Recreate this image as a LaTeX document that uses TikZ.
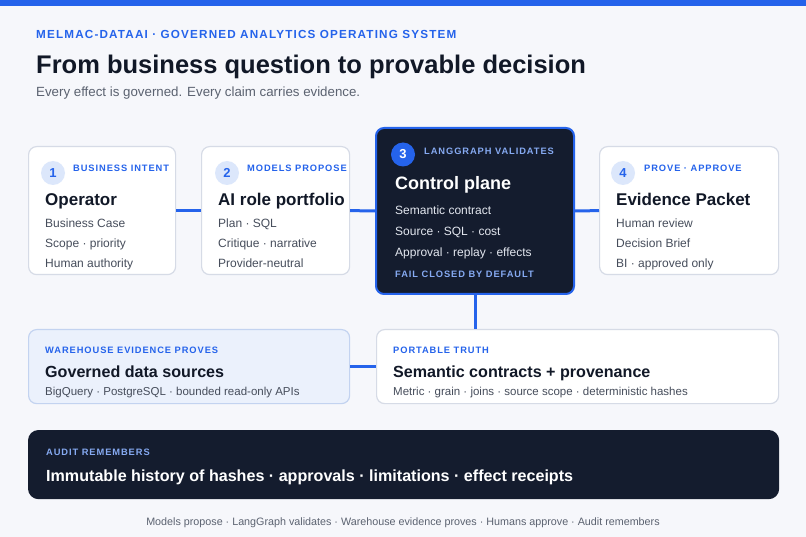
\documentclass[tikz,border=0pt]{standalone}
\usepackage{fontspec}
\setmainfont{Liberation Sans}
\newfontfamily\capsfont[LetterSpace=10]{Liberation Sans}
\usetikzlibrary{positioning}
\definecolor{pagebg}{HTML}{F6F7FB}
\definecolor{accent}{HTML}{2563EB}
\definecolor{ink}{HTML}{111827}
\definecolor{navy}{HTML}{141C2E}
\definecolor{edge}{HTML}{D6DBE6}
\definecolor{muted}{HTML}{464D5B}
\definecolor{greytext}{HTML}{5B6270}
\definecolor{softblue}{HTML}{DCE7FB}
\definecolor{paleblue}{HTML}{EBF1FC}
\definecolor{paleedge}{HTML}{C3D3F0}
\definecolor{skyblue}{HTML}{86AAF2}
\definecolor{lightline}{HTML}{E3E7EF}

\begin{document}
\begin{tikzpicture}[x=1pt,y=-1pt]
	\tikzstyle{card}=[draw=edge, fill=white, line width=1.2pt, rounded corners=8pt, anchor=north west, inner sep=0pt]
	\tikzstyle{badge}=[circle, fill=softblue, text=accent, minimum size=24pt, inner sep=0pt, font=\bfseries\fontsize{13}{13}\selectfont]
	\tikzstyle{tag}=[anchor=base west, inner sep=0pt, text=accent, font=\capsfont\bfseries\fontsize{9.3}{11}\selectfont]
	\tikzstyle{head}=[anchor=base west, inner sep=0pt, text=ink, font=\bfseries\fontsize{17}{20}\selectfont]
	\tikzstyle{item}=[anchor=base west, inner sep=0pt, text=muted, font=\fontsize{12}{14}\selectfont]
	\tikzstyle{link}=[draw=accent, line width=3pt]

	% page
	\fill[pagebg] (0,0) rectangle (806,537);
	\fill[accent] (0,0) rectangle (806,6);

	\node[tag, font=\capsfont\bfseries\fontsize{11.7}{13}\selectfont] (kicker) at (36,38.5) {MELMAC-DATAAI · GOVERNED ANALYTICS OPERATING SYSTEM};
	\node[anchor=base west, inner sep=0pt, text=ink, font=\bfseries\fontsize{25.5}{30}\selectfont] (title) at (36,74) {From business question to provable decision};
	\node[anchor=base west, inner sep=0pt, text=greytext, font=\fontsize{13.3}{16}\selectfont] (subtitle) at (36,97) {Every effect is governed. Every claim carries evidence.};

	% top row
	\node[card, minimum width=147pt, minimum height=128pt] (op) at (28,146) {};
	\node[card, minimum width=148pt, minimum height=128pt] (ai) at (201,146) {};
	\node[card, draw=accent, fill=navy, line width=2pt, minimum width=198pt, minimum height=166pt] (cp) at (375,127) {};
	\node[card, minimum width=179pt, minimum height=128pt] (ev) at (599,146) {};

	\node[badge] (n1) at (53,173) {1};
	\node[tag] (op-tag) at (73,171.5) {BUSINESS INTENT};
	\node[head] (op-head) at (45,205.5) {Operator};
	\node[item] (op-a) at (45,227.5) {Business Case};
	\node[item] (op-b) at (45,247.5) {Scope · priority};
	\node[item] (op-c) at (45,267.5) {Human authority};

	\node[badge] (n2) at (227,173) {2};
	\node[tag] (ai-tag) at (247,171.5) {MODELS PROPOSE};
	\node[head] (ai-head) at (218,205.5) {AI role portfolio};
	\node[item] (ai-a) at (218,227.5) {Plan · SQL};
	\node[item] (ai-b) at (218,247.5) {Critique · narrative};
	\node[item] (ai-c) at (218,267.5) {Provider-neutral};

	\node[badge, fill=accent, text=white] (n3) at (403,154.5) {3};
	\node[tag, text=skyblue] (cp-tag) at (424,155) {LANGGRAPH VALIDATES};
	\node[head, text=white, font=\bfseries\fontsize{18}{21}\selectfont] (cp-head) at (395,189.5) {Control plane};
	\node[item, text=lightline] (cp-a) at (395,215) {Semantic contract};
	\node[item, text=lightline] (cp-b) at (395,236) {Source · SQL · cost};
	\node[item, text=lightline] (cp-c) at (395,256.5) {Approval · replay · effects};
	\node[tag, text=skyblue] (cp-fail) at (395,277.5) {FAIL CLOSED BY DEFAULT};

	\node[badge] (n4) at (623,173) {4};
	\node[tag] (ev-tag) at (644,171.5) {PROVE · APPROVE};
	\node[head] (ev-head) at (616,205.5) {Evidence Packet};
	\node[item] (ev-a) at (616,227.5) {Human review};
	\node[item] (ev-b) at (616,247.5) {Decision Brief};
	\node[item] (ev-c) at (616,267.5) {BI · approved only};

	% middle row
	\node[card, draw=paleedge, fill=paleblue, minimum width=321pt, minimum height=74pt] (wh) at (28,329) {};
	\node[card, minimum width=402pt, minimum height=74pt] (pt) at (376,329) {};

	\node[tag] (wh-tag) at (45,353.5) {WAREHOUSE EVIDENCE PROVES};
	\node[head, font=\bfseries\fontsize{16.1}{19}\selectfont] (wh-head) at (45,377.5) {Governed data sources};
	\node[item, font=\fontsize{11.5}{13}\selectfont] (wh-sub) at (45,395) {BigQuery · PostgreSQL · bounded read-only APIs};

	\node[tag] (pt-tag) at (393,353.5) {PORTABLE TRUTH};
	\node[head, font=\bfseries\fontsize{16.1}{19}\selectfont] (pt-head) at (393,377.5) {Semantic contracts + provenance};
	\node[item, font=\fontsize{11.5}{13}\selectfont] (pt-sub) at (393,395) {Metric · grain · joins · source scope · deterministic hashes};

	% audit
	\node[card, draw=navy, fill=navy, rounded corners=10pt, minimum width=750pt, minimum height=68pt] (au) at (28,430) {};
	\node[tag, text=skyblue] (au-tag) at (46,455.5) {AUDIT REMEMBERS};
	\node[head, text=white, font=\bfseries\fontsize{16.1}{19}\selectfont] (au-head) at (46,481) {Immutable history of hashes · approvals · limitations · effect receipts};

	\node[text=greytext, inner sep=0pt, anchor=base, font=\fontsize{10.75}{12}\selectfont] (footer) at (403,525) {Models propose · LangGraph validates · Warehouse evidence proves · Humans approve · Audit remembers};

	% connectors
	\draw[link] (op.east) -- (ai.west);
	\draw[link] (ai.east) -- (cp.west);
	\draw[link] (cp.east) -- (ev.west);
	\draw[link] (cp.south) -- (cp.south |- pt.north);
	\draw[link] (wh.east) -- (pt.west);
\end{tikzpicture}
\end{document}
